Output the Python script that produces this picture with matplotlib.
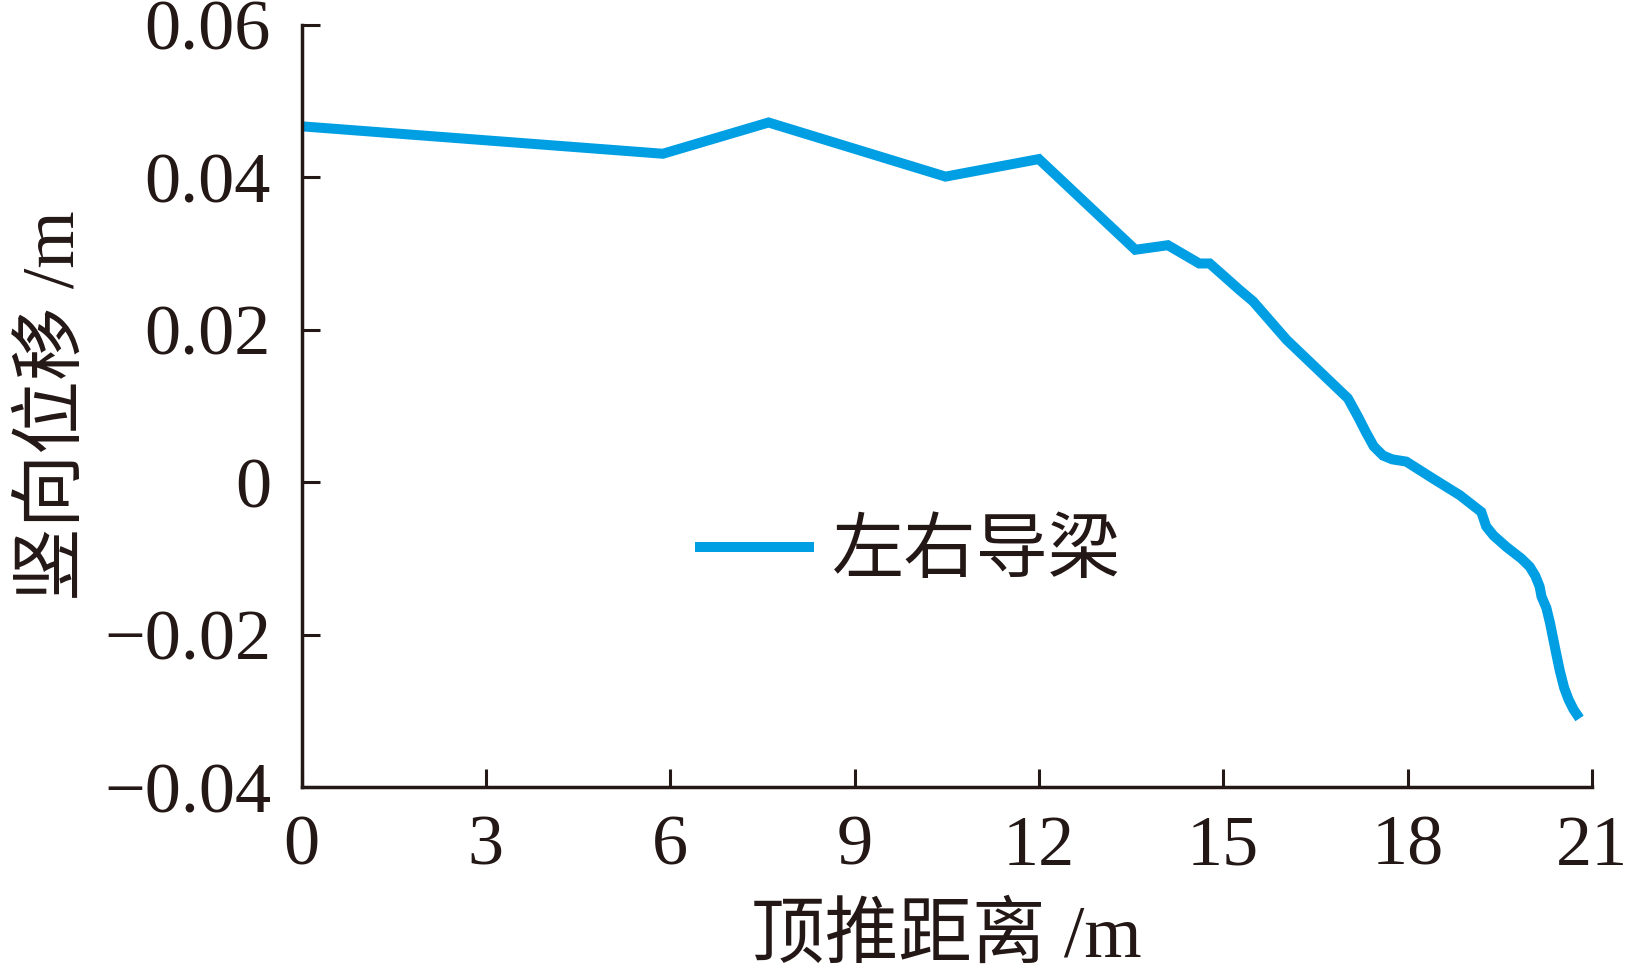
import numpy as np
import matplotlib
matplotlib.use('Agg')
import matplotlib.pyplot as plt

# jacking distance (m) and vertical displacement (m)
push_dist = [0.0, 5.88, 7.60, 10.48, 12.0, 13.57, 14.10, 14.61, 14.78, 15.27,
             15.49, 16.03, 17.03, 17.20, 17.32, 17.45, 17.60, 17.75, 17.98, 18.41,
             18.85, 19.20, 19.28, 19.40, 19.61, 19.85, 19.99, 20.08, 20.15, 20.18,
             20.26, 20.32, 20.42, 20.48, 20.55, 20.62, 20.70, 20.80]
vert_disp = [0.0467, 0.0431, 0.0472, 0.0401, 0.0424, 0.0305, 0.0311, 0.0287, 0.0287, 0.0252,
             0.0237, 0.0187, 0.0110, 0.0085, 0.0066, 0.0047, 0.0035, 0.0030, 0.0027, 0.0005,
             -0.0017, -0.0039, -0.0058, -0.0070, -0.0085, -0.0100, -0.0111, -0.0123, -0.0137, -0.0150,
             -0.0165, -0.0185, -0.0225, -0.0248, -0.0270, -0.0285, -0.0298, -0.0310]

x_ticks = [0, 3, 6, 9, 12, 15, 18, 21]
y_ticks = [-0.04, -0.02, 0, 0.02, 0.04, 0.06]
y_ticklabels = ['\u22120.04', '\u22120.02', '0', '0.02', '0.04', '0.06']
series_name = '左右导梁'
x_label = '顶推距离 /m'
y_label = '竖向位移 /m'

ink = '#231815'
blue = '#009FE3'

plt.rcParams['font.family'] = ['Liberation Serif', 'Noto Sans CJK SC']
plt.rcParams['text.color'] = ink

fig = plt.figure(figsize=(16.25, 9.75), dpi=100)
ax = fig.add_axes([0.1856, 0.1928, 0.7940, 0.7816])

ax.plot(push_dist, vert_disp, color=blue, lw=7.2, label=series_name,
        solid_capstyle='butt', solid_joinstyle='miter')

ax.set_xlim(0, 21)
ax.set_ylim(-0.04, 0.06)
ax.set_xticks(x_ticks)
ax.set_yticks(y_ticks)
ax.set_yticklabels(y_ticklabels)

for side in ['top', 'right']:
    ax.spines[side].set_visible(False)
for side in ['left', 'bottom']:
    ax.spines[side].set_linewidth(2.5)
    ax.spines[side].set_color(ink)

ax.tick_params(axis='both', direction='in', length=13, width=2.2, color=ink,
               labelsize=52, labelcolor=ink)
ax.tick_params(axis='y', pad=22)
ax.tick_params(axis='x', pad=20)

ax.set_xlabel(x_label, fontsize=53, color=ink, labelpad=18)
ax.set_ylabel(y_label, fontsize=53, color=ink, labelpad=10)

leg = ax.legend(loc='center left', bbox_to_anchor=(0.305, 0.306), frameon=False,
                fontsize=52, handlelength=1.65, handletextpad=0.25,
                borderpad=0, borderaxespad=0)
for t in leg.get_texts():
    t.set_color(ink)

fig.savefig('out.png', dpi=100)
